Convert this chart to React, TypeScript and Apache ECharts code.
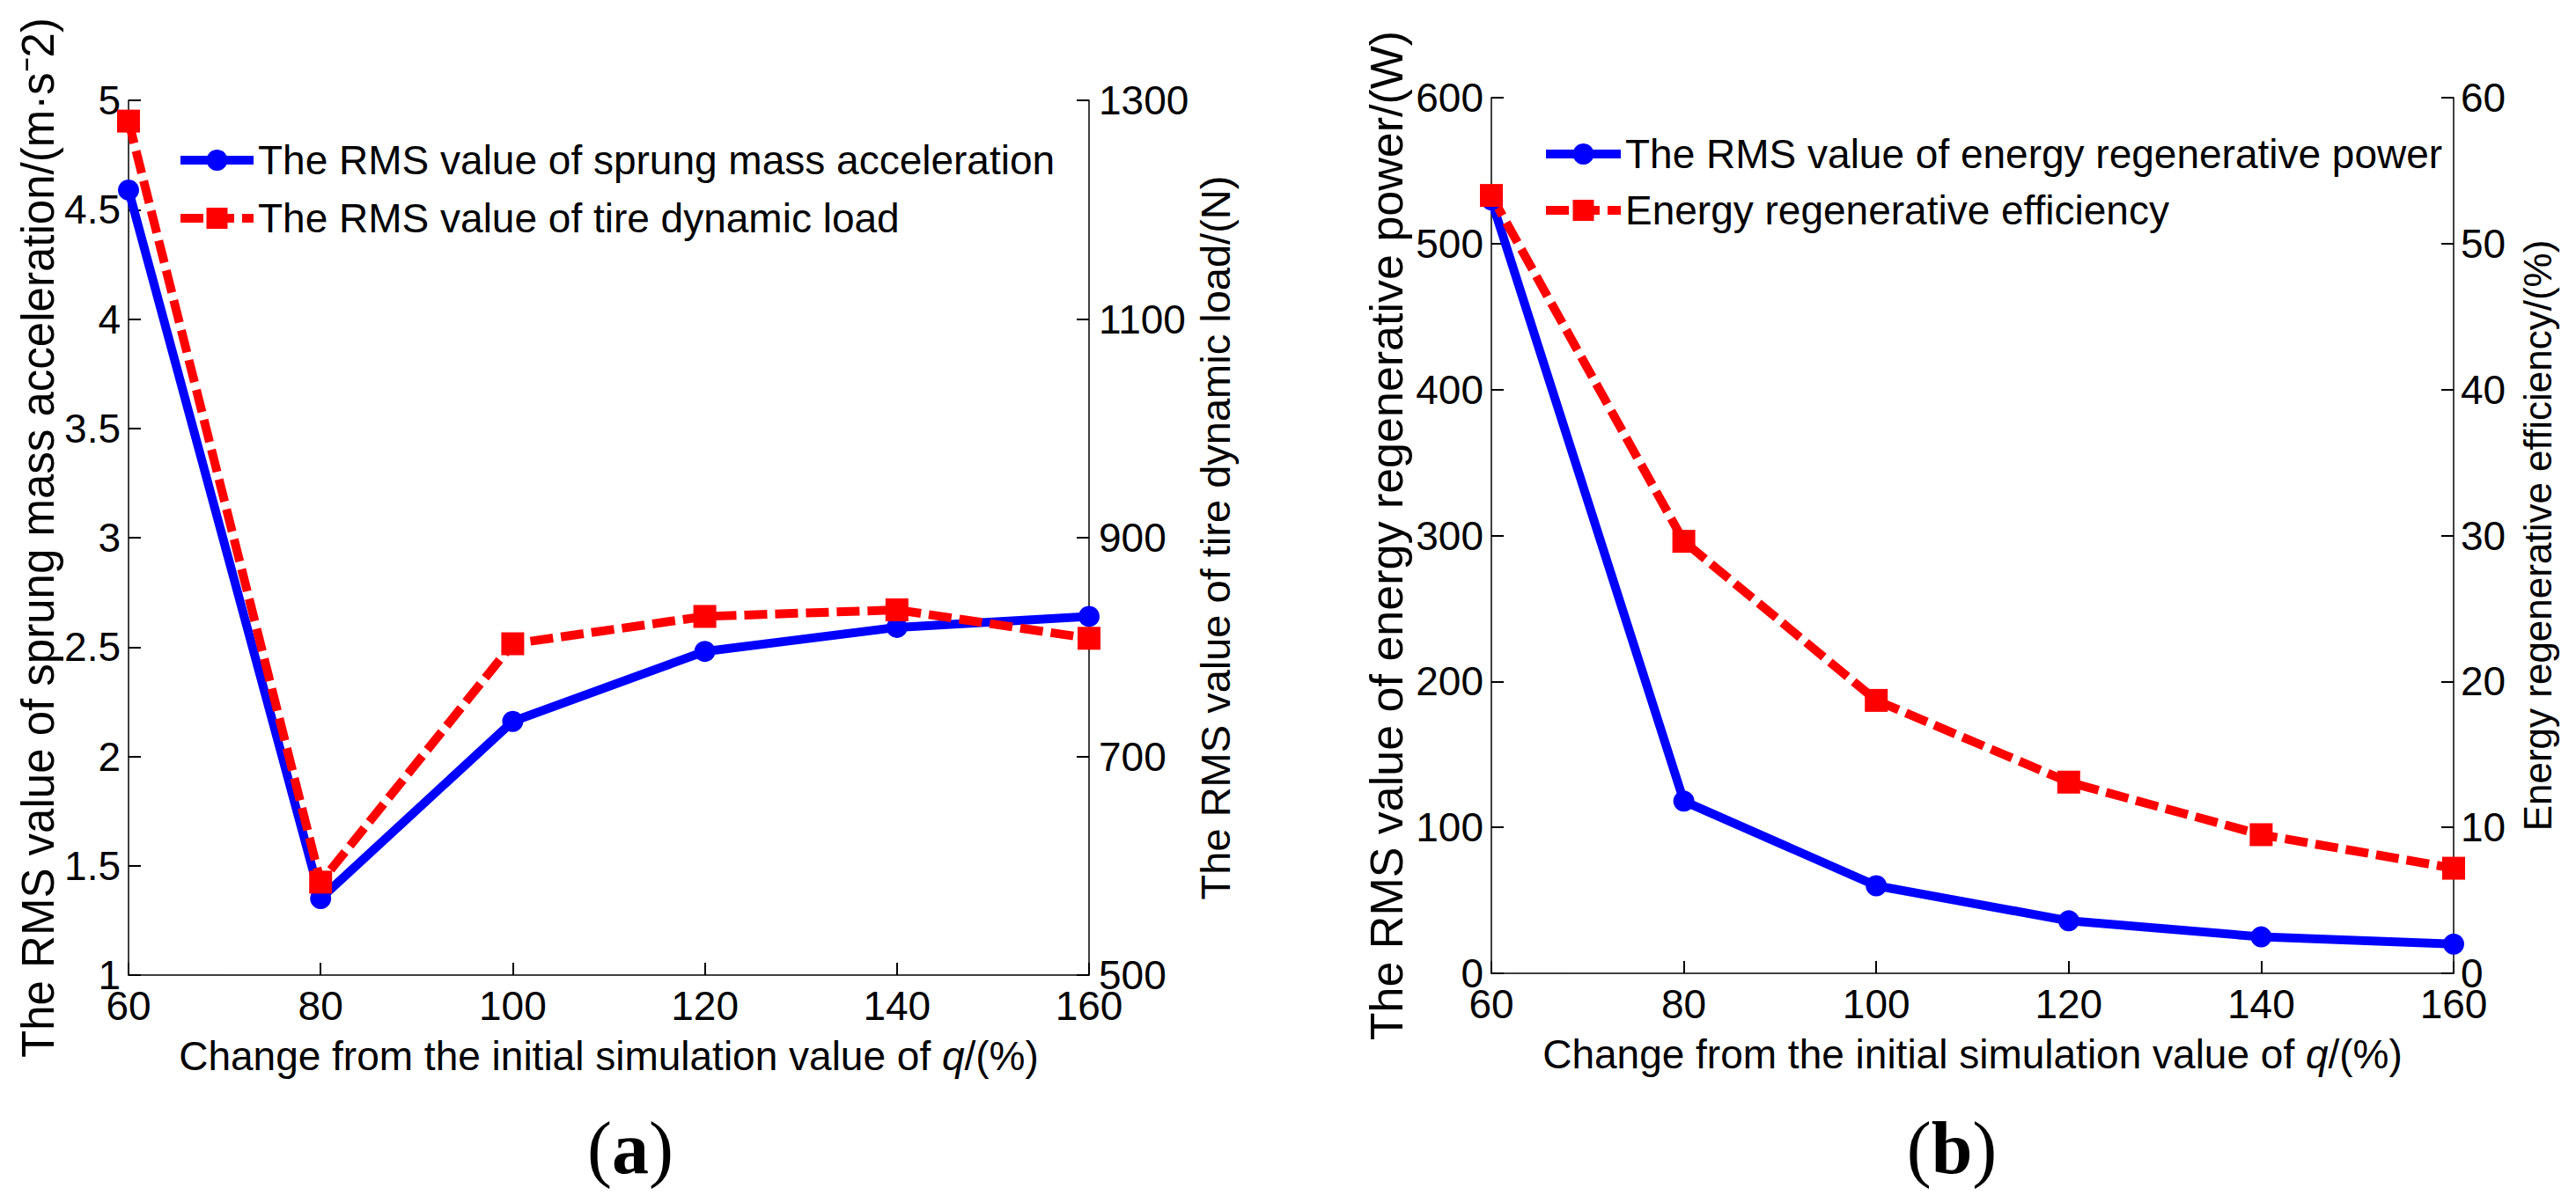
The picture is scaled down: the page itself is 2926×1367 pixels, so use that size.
import React, { useEffect, useRef } from "react";
import * as echarts from "echarts";

// ---- data ----
const qChange = [60, 80, 100, 120, 140, 160];
const accelRms = [4.59, 1.35, 2.16, 2.48, 2.59, 2.64];
const tireLoadRms = [1281, 585, 803, 828, 834, 808];
const powerRms = [530, 118, 60, 36, 25, 20];
const regenEfficiency = [53.3, 29.6, 18.7, 13.1, 9.5, 7.2];

// ---- tick labels ----
const xTicks = [60, 80, 100, 120, 140, 160];
const accelTicks = [1, 1.5, 2, 2.5, 3, 3.5, 4, 4.5, 5];
const loadTicks = [500, 700, 900, 1100, 1300];
const powerTicks = [0, 100, 200, 300, 400, 500, 600];
const effTicks = [0, 10, 20, 30, 40, 50, 60];

const seriesNames = {
  accel: "The RMS value of sprung mass acceleration",
  load: "The RMS value of tire dynamic load",
  power: "The RMS value of energy regenerative power",
  eff: "Energy regenerative efficiency",
};

const FONT = '"Liberation Sans Narrow", "Liberation Sans", Arial, sans-serif';
const SERIF = '"Liberation Serif", "Times New Roman", serif';
const BLUE = "#0000ff";
const RED = "#ff0000";
const TICK_FS = 46;

function pairs(xs: number[], ys: number[]) {
  return xs.map((x, i) => [x, ys[i]]);
}

export default function App() {
  const ref = useRef<HTMLDivElement>(null);
  useEffect(() => {
    if (!ref.current) return;
    const chart = echarts.init(ref.current, null, { renderer: "svg" });

    const axisLine = { show: true, onZero: false, lineStyle: { color: "#000", width: 1.5 } };
    const axisTick = (vals: number[]) => ({
      show: true,
      inside: true,
      length: 14,
      customValues: vals,
      lineStyle: { color: "#000", width: 2 },
    });
    const label = (vals: number[], margin: number) => ({
      show: true,
      customValues: vals,
      fontSize: TICK_FS,
      fontFamily: FONT,
      color: "#000",
      margin,
      showMinLabel: true,
      showMaxLabel: true,
      formatter: (v: number) => String(v),
    });
    const yName = (gap: number, fs: number) => ({
      nameLocation: "middle" as const,
      nameRotate: 90,
      nameGap: gap,
      nameMoveOverlap: false,
      nameTextStyle: { fontSize: fs, fontFamily: FONT, color: "#000" },
    });

    const xAxisFor = (g: number) => ({
      type: "value" as const,
      gridIndex: g,
      min: 60,
      max: 160,
      interval: 20,
      axisLine,
      axisTick: axisTick(xTicks),
      axisLabel: label(xTicks, 12),
      splitLine: { show: false },
      name: "Change from the initial simulation value of {i|q}/(%)",
      nameLocation: "middle" as const,
      nameGap: 69,
      nameMoveOverlap: false,
      nameTextStyle: {
        fontSize: TICK_FS,
        fontFamily: FONT,
        color: "#000",
        rich: { i: { fontSize: TICK_FS, fontFamily: FONT, fontStyle: "italic", color: "#000" } },
      },
    });

    const legendBase = {
      orient: "vertical",
      itemHeight: 30,
      lineStyle: { width: 10 },
      textStyle: { fontSize: TICK_FS, fontFamily: FONT, color: "#000" },
    };

    const option: any = {
      animation: false,
      backgroundColor: "#fff",
      grid: [
        { left: 146, top: 114, width: 1091, height: 994 },
        { left: 1694, top: 111, width: 1093, height: 995 },
      ],
      xAxis: [xAxisFor(0), xAxisFor(1)],
      yAxis: [
        {
          type: "value",
          gridIndex: 0,
          position: "left",
          min: 1,
          max: 5,
          interval: 0.5,
          axisLine,
          axisTick: axisTick(accelTicks),
          axisLabel: label(accelTicks, 9),
          splitLine: { show: false },
          name: "The RMS value of sprung mass acceleration/(m·s⁻2)",
          ...yName(77, 51),
        },
        {
          type: "value",
          gridIndex: 0,
          position: "right",
          min: 500,
          max: 1300,
          axisLine,
          axisTick: axisTick(loadTicks),
          axisLabel: label(loadTicks, 11),
          splitLine: { show: false },
          name: "The RMS value of tire dynamic load/(N)",
          ...yName(120, 47),
        },
        {
          type: "value",
          gridIndex: 1,
          position: "left",
          min: 0,
          max: 600,
          interval: 100,
          axisLine,
          axisTick: axisTick(powerTicks),
          axisLabel: label(powerTicks, 9),
          splitLine: { show: false },
          name: "The RMS value of energy regenerative power/(W)",
          ...yName(93, 52),
        },
        {
          type: "value",
          gridIndex: 1,
          position: "right",
          min: 0,
          max: 60,
          interval: 10,
          axisLine,
          axisTick: axisTick(effTicks),
          axisLabel: label(effTicks, 8),
          splitLine: { show: false },
          name: "Energy regenerative efficiency/(%)",
          ...yName(73, 44),
        },
      ],
      legend: [
        {
          ...legendBase,
          data: [seriesNames.accel, seriesNames.load],
          left: 195,
          top: 154,
          itemWidth: 83,
          itemGap: 20,
        },
        {
          ...legendBase,
          data: [seriesNames.power, seriesNames.eff],
          left: 1746,
          top: 147,
          itemWidth: 85,
          itemGap: 18,
        },
      ],
      series: [
        {
          name: seriesNames.accel,
          type: "line",
          xAxisIndex: 0,
          yAxisIndex: 0,
          data: pairs(qChange, accelRms),
          symbol: "circle",
          symbolSize: 24,
          clip: false,
          lineStyle: { color: BLUE, width: 10 },
          itemStyle: { color: BLUE },
        },
        {
          name: seriesNames.load,
          type: "line",
          xAxisIndex: 0,
          yAxisIndex: 1,
          data: pairs(qChange, tireLoadRms),
          symbol: "rect",
          symbolSize: 26,
          clip: false,
          lineStyle: { color: RED, width: 10, type: [26, 9] },
          itemStyle: { color: RED },
        },
        {
          name: seriesNames.power,
          type: "line",
          xAxisIndex: 1,
          yAxisIndex: 2,
          data: pairs(qChange, powerRms),
          symbol: "circle",
          symbolSize: 24,
          clip: false,
          lineStyle: { color: BLUE, width: 10 },
          itemStyle: { color: BLUE },
        },
        {
          name: seriesNames.eff,
          type: "line",
          xAxisIndex: 1,
          yAxisIndex: 3,
          data: pairs(qChange, regenEfficiency),
          symbol: "rect",
          symbolSize: 26,
          clip: false,
          lineStyle: { color: RED, width: 10, type: [26, 9] },
          itemStyle: { color: RED },
        },
      ],
      graphic: [
        {
          type: "text",
          x: 716,
          y: 1304,
          style: {
            text: "{p|(}{b|a}{p|)}",
            align: "center",
            verticalAlign: "middle",
            rich: {
              p: { fontSize: 84, fontFamily: SERIF, fill: "#000" },
              b: { fontSize: 84, fontFamily: SERIF, fontWeight: "bold", fill: "#000" },
            },
          },
        },
        {
          type: "text",
          x: 2217,
          y: 1304,
          style: {
            text: "{p|(}{b|b}{p|)}",
            align: "center",
            verticalAlign: "middle",
            rich: {
              p: { fontSize: 84, fontFamily: SERIF, fill: "#000" },
              b: { fontSize: 84, fontFamily: SERIF, fontWeight: "bold", fill: "#000" },
            },
          },
        },
      ],
    };

    chart.setOption(option);
    return () => chart.dispose();
  }, []);

  return (
    <div
      ref={ref}
      style={{ position: "absolute", left: 0, top: 0, width: 2926, height: 1367, background: "#fff" }}
    />
  );
}
